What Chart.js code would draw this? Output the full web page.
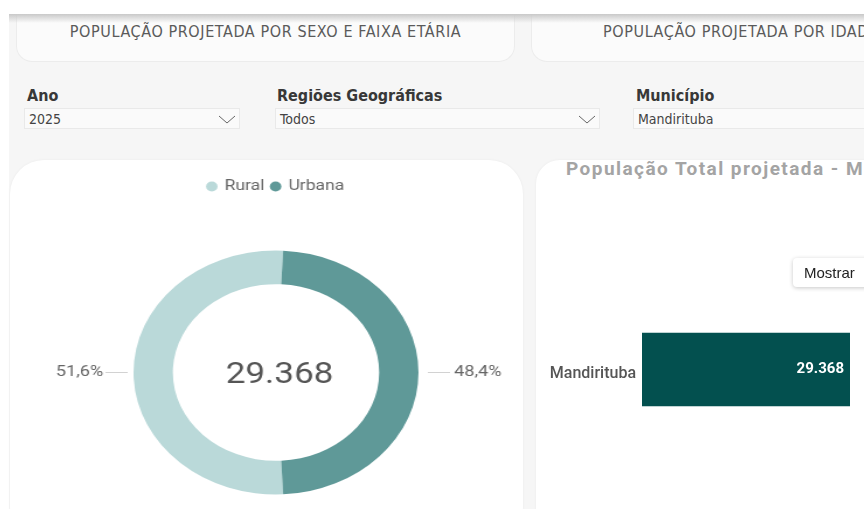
<!DOCTYPE html>
<html lang="pt-BR">
<head>
<meta charset="utf-8">
<script src="https://cdn.jsdelivr.net/npm/chart.js@4.4.1/dist/chart.umd.min.js"></script>
<style>
  html, body { margin:0; padding:0; }
  body { width:864px; height:509px; overflow:hidden; background:#fff; position:relative; font-family: Roboto, "Noto Sans", sans-serif; }
  #page { position:absolute; left:9px; top:14px; width:870px; height:520px; background:#f6f6f6; }
  #topShade { position:absolute; left:9px; top:14px; width:870px; height:9px; background:linear-gradient(#c9c9c9, rgba(246,246,246,0)); z-index:5; }
  .hcard { position:absolute; top:14px; height:47px; background:#fbfbfb; border:1px solid #ececec; border-top:none; border-radius:0 0 16px 16px; color:#5a5a5a; font-family:"Liberation Sans Narrow","DejaVu Sans Condensed",Roboto,sans-serif; font-stretch:condensed; font-size:16px; letter-spacing:0.6px; line-height:36px; text-align:center; white-space:nowrap; overflow:hidden; }
  .slabel { position:absolute; top:86px; font-family:"Liberation Sans Narrow","DejaVu Sans Condensed",Roboto,sans-serif; font-stretch:condensed; font-size:16px; font-weight:bold; color:#383838; white-space:nowrap; }
  .sbox { position:absolute; top:108px; height:21px; background:#fafafa; border:1px solid #e9e9e9; font-family:"Liberation Sans Narrow","DejaVu Sans Condensed",Roboto,sans-serif; font-stretch:condensed; font-size:14px; color:#444; line-height:21px; padding-left:4px; box-sizing:border-box; white-space:nowrap; }
  .sbox svg { position:absolute; top:6px; }
  .card { position:absolute; background:#fff; box-shadow:0 0 3px rgba(0,0,0,0.05); }
  #donutWrap { position:absolute; left:56px; top:173px; width:440px; height:368px; transform:scaleX(1.168); transform-origin:50% 50%; }
  #barWrap { position:absolute; left:530px; top:200px; width:334px; height:339px; }
  #barTitle { position:absolute; left:566px; top:157px; font-family:Roboto,sans-serif; font-weight:700; font-size:19px; letter-spacing:1.45px; color:#a4a4a4; white-space:nowrap; }
  #mostrar { position:absolute; left:793px; top:258px; width:90px; height:29px; background:#fff; border-radius:4px; box-shadow:0 1px 4px rgba(0,0,0,0.22); font-family:"Liberation Sans",Arial,sans-serif; font-size:15px; color:#222; line-height:29px; padding-left:11px; box-sizing:border-box; }
</style>
</head>
<body>
<div id="page"></div>
<div id="topShade"></div>

<div class="hcard" style="left:16px;width:497px;">POPULAÇÃO PROJETADA POR SEXO E FAIXA ETÁRIA</div>
<div class="hcard" style="left:531px;width:400px;text-align:left;padding-left:71px;">POPULAÇÃO PROJETADA POR IDADE</div>

<div class="slabel" style="left:27px;">Ano</div>
<div class="sbox" style="left:24px;width:216px;">2025<svg style="left:193px" width="18" height="10"><polyline points="1,1 9,8 17,1" fill="none" stroke="#666" stroke-width="1"/></svg></div>
<div class="slabel" style="left:277px;">Regiões Geográficas</div>
<div class="sbox" style="left:275px;width:325px;">Todos<svg style="left:302px" width="18" height="10"><polyline points="1,1 9,8 17,1" fill="none" stroke="#666" stroke-width="1"/></svg></div>
<div class="slabel" style="left:636px;">Município</div>
<div class="sbox" style="left:633px;width:260px;">Mandirituba</div>

<div class="card" style="left:10px;top:160px;width:513px;height:380px;border-radius:34px;"></div>
<div class="card" style="left:536px;top:160px;width:340px;height:380px;border-radius:24px 0 0 0;"></div>

<div id="donutWrap"><canvas id="donut"></canvas></div>
<div id="barTitle">População Total projetada - Município</div>
<div id="barWrap"><canvas id="bar"></canvas></div>
<div id="mostrar">Mostrar</div>

<script>
// ---- data ----
const zones = ['Rural', 'Urbana'];
const zonePopulation = [15154, 14214];
const zoneColors = ['#bad9d9', '#5f9998'];

const municipios = ['Mandirituba'];
const municipioPopulation = [29368];

function fmtInt(n) {
  return String(Math.round(n)).replace(/\B(?=(\d{3})+(?!\d))/g, '.');
}
const zoneTotal = zonePopulation.reduce((a, b) => a + b, 0);

const donutLabels = {
  id: 'donutLabels',
  afterDatasetsDraw(chart) {
    const ctx = chart.ctx;
    const meta = chart.getDatasetMeta(0);
    if (!meta.data.length) return;
    const cx = meta.data[0].x, cy = meta.data[0].y;
    ctx.save();
    ctx.fillStyle = '#555';
    ctx.font = '400 30px Roboto';
    ctx.textAlign = 'center';
    ctx.textBaseline = 'middle';
    ctx.fillText(fmtInt(zoneTotal), cx + 3, cy + 3);
    ctx.font = '400 15.5px Roboto';
    ctx.fillStyle = '#666';
    meta.data.forEach((arc, i) => {
      const mid = (arc.startAngle + arc.endAngle) / 2;
      const r = arc.outerRadius;
      const c = Math.cos(mid), s = Math.sin(mid);
      const extra = c < 0 ? 0 : 3;
      ctx.strokeStyle = '#d2d2d2';
      ctx.lineWidth = 1;
      ctx.beginPath();
      ctx.moveTo(cx + c * (r + 5 + extra), cy + s * (r + 5));
      ctx.lineTo(cx + c * (r + 24 + extra), cy + s * (r + 24));
      ctx.stroke();
      const pct = (zonePopulation[i] / zoneTotal * 100).toFixed(1).replace('.', ',') + '%';
      ctx.textAlign = c < 0 ? 'right' : 'left';
      ctx.fillText(pct, cx + c * (r + 26 + extra * 1.5), cy + s * (r + 26));
    });
    ctx.restore();
  }
};

new Chart(document.getElementById('donut'), {
  type: 'doughnut',
  data: {
    labels: zones,
    datasets: [{
      data: zonePopulation,
      backgroundColor: zoneColors,
      borderWidth: 0
    }]
  },
  options: {
    responsive: true,
    maintainAspectRatio: false,
    animation: false,
    cutout: '72.4%',
    rotation: 270 - (zonePopulation[0] / zoneTotal * 360) / 2,
    layout: { padding: { left: 98, right: 98 } },
    plugins: {
      legend: {
        position: 'top',
        labels: {
          usePointStyle: true,
          pointStyle: 'circle',
          boxWidth: 7,
          boxHeight: 7,
          padding: 6,
          color: '#666',
          font: { family: 'Roboto', size: 15 }
        }
      },
      tooltip: { enabled: false }
    }
  },
  plugins: [donutLabels]
});

const barValueLabels = {
  id: 'barValueLabels',
  afterDatasetsDraw(chart) {
    const ctx = chart.ctx;
    const meta = chart.getDatasetMeta(0);
    ctx.save();
    ctx.fillStyle = '#ffffff';
    ctx.font = '700 15px Roboto';
    ctx.textAlign = 'right';
    ctx.textBaseline = 'middle';
    meta.data.forEach((bar, i) => {
      ctx.fillText(fmtInt(municipioPopulation[i]), bar.x - 6, bar.y);
    });
    ctx.restore();
  }
};

new Chart(document.getElementById('bar'), {
  type: 'bar',
  data: {
    labels: municipios,
    datasets: [{
      data: municipioPopulation,
      backgroundColor: '#03504f',
      borderWidth: 0,
      barThickness: 73
    }]
  },
  options: {
    indexAxis: 'y',
    responsive: true,
    maintainAspectRatio: false,
    animation: false,
    layout: { padding: { right: 14 } },
    scales: {
      x: { display: false, min: 0, max: Math.max(...municipioPopulation) },
      y: {
        grid: { display: false, drawTicks: false, tickLength: 0 },
        border: { display: false },
        ticks: { color: '#555', padding: 6, labelOffset: 4, font: { family: 'Roboto', size: 16, weight: '500' } },
        afterFit(axis) { axis.width = 112; }
      }
    },
    plugins: { legend: { display: false }, tooltip: { enabled: false } }
  },
  plugins: [barValueLabels]
});
</script>
</body>
</html>
